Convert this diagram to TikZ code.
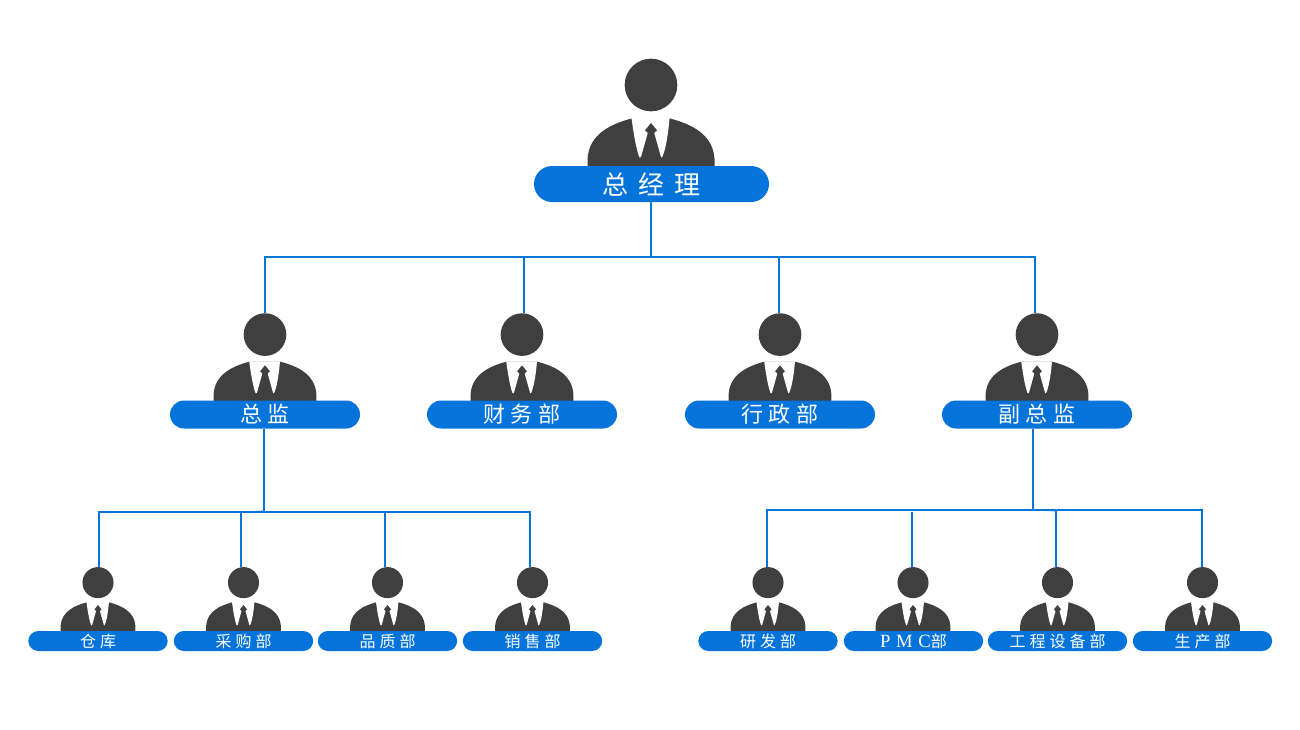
\documentclass[tikz,border=0pt]{standalone}
\usepackage{fontspec}
\usetikzlibrary{shapes.misc}
\setmainfont{Liberation Serif}
\newfontfamily\cjkA[LetterSpace=38]{Noto Sans CJK SC}
\newfontfamily\cjkB[LetterSpace=27]{Noto Sans CJK SC}
\newfontfamily\cjkC[LetterSpace=25]{Noto Sans CJK SC}
\newfontfamily\latC[LetterSpace=30]{Liberation Serif}
\definecolor{barblue}{HTML}{0474DB}
\definecolor{linkblue}{HTML}{0875D8}
\definecolor{suit}{HTML}{3F3F3F}
\tikzset{
  link/.style={draw=linkblue,line width=1.5pt},
  wedge/.style={draw=linkblue,line width=0.6pt},
  headnode/.style={circle,fill=suit,inner sep=0pt},
  barbase/.style={rounded rectangle,fill=barblue,draw=none,inner sep=0pt,text=white,align=center},
  barA/.style={barbase,minimum width=176.25pt,minimum height=27pt,font=\fontsize{19.5}{20}\cjkA},
  barB/.style={barbase,minimum width=142.5pt,minimum height=21pt,font=\fontsize{16.5}{18}\cjkB},
  barC/.style={barbase,minimum width=104.5pt,minimum height=15pt,font=\fontsize{12}{13}\cjkC},
}
\newcommand{\person}[4]{%
  \begin{scope}[shift={(#2,#3)},scale=#4]
    \fill[suit] (-63.5,0) -- (-63.5,-8) .. controls (-62,-33) and (-40,-43) .. (-19.5,-48.5)
      -- (19,-48.5) .. controls (40,-43) and (62,-33) .. (63.5,-8) -- (63.5,0) -- cycle;
    \fill[white] (-19.5,-49) .. controls (-17,-30) and (-14,-15) .. (-11.5,-9.5) -- (-10,-10) -- (-3,-35)
      -- (3,-35) -- (10,-10) -- (11,-9.5) .. controls (14,-15) and (17,-30) .. (18.5,-49) -- cycle;
    \fill[suit] (0,-44) -- (-6,-36.7) -- (0,-31) -- (6,-36.7) -- cycle;
    \node[headnode,minimum size=#4*39.5pt] (#1) at (0,-82) {};
  \end{scope}}
\begin{document}
\begin{tikzpicture}[x=0.75pt,y=-0.75pt]
\useasboundingbox (0,0) rectangle (1300,729);
% people
\person{hT}{651}{167}{1}
\person{h1}{265}{401}{0.81}
\person{h2}{522}{401}{0.81}
\person{h3}{780}{401}{0.81}
\person{h4}{1037}{401}{0.81}
\person{a1}{98}{631}{0.59}
\person{a2}{243.5}{631}{0.59}
\person{a3}{387.5}{631}{0.59}
\person{a4}{532.5}{631}{0.59}
\person{b1}{768}{631}{0.59}
\person{b2}{913}{631}{0.59}
\person{b3}{1057.5}{631}{0.59}
\person{b4}{1202.5}{631}{0.59}
% bars
\node[barA] (bT) at (651.5,184) {总经理};
\node[barB] (b1T) at (265,414.5) {总监};
\node[barB] (b2T) at (522,414.5) {财务部};
\node[barB] (b3T) at (780,414.5) {行政部};
\node[barB] (b4T) at (1037,414.5) {副总监};
\node[barC] (c1) at (98,641) {仓库};
\node[barC] (c2) at (243.5,641) {采购部};
\node[barC] (c3) at (387.5,641) {品质部};
\node[barC] (c4) at (532.5,641) {销售部};
\node[barC] (d1) at (768,641) {研发部};
\node[barC] (d2) at (913.5,641) {{\fontsize{14}{14}\latC PMC}部};
\node[barC] (d3) at (1057.5,641) {工程设备部};
\node[barC] (d4) at (1202.5,641) {生产部};
% junctions
\coordinate (jT) at (651,257);
\coordinate (t1) at (265,257);
\coordinate (t2) at (524,257);
\coordinate (t3) at (779,257);
\coordinate (t4) at (1035,257);
\coordinate (jL) at (264,511);
\coordinate (l1) at (99,512);
\coordinate (l2) at (241,512);
\coordinate (l3) at (385,512);
\coordinate (l4) at (530,512);
\coordinate (jR) at (1033,510);
\coordinate (r1) at (767,510);
\coordinate (r2) at (912,512);
\coordinate (r3) at (1056,511);
\coordinate (r4) at (1202,510);
% connectors
\draw[link] (bT.south -| jT) -- (jT);
\draw[link] (t1 |- h1.north) -- (t1) -- (t4) -- (t4 |- h4.north);
\draw[link] (t2) -- (t2 |- h2.north);
\draw[link] (t3) -- (t3 |- h3.north);
\draw[link] (b1T.south -| jL) -- (jL);
\draw[link] (l1 |- a1.north) -- (l1) -- (l4) -- (l4 |- a4.north);
\draw[link] (l2) -- (l2 |- a2.north);
\draw[link] (l3) -- (l3 |- a3.north);
\draw[wedge] (l2) -- (jL);
\draw[link] (b4T.south -| jR) -- (jR);
\draw[link] (r1 |- b1.north) -- (r1) -- (r4) -- (r4 |- b4.north);
\draw[link] (r2) -- (r2 |- b2.north);
\draw[link] (r3) -- (r3 |- b3.north);
\draw[wedge] (jR) -- (r3);
\end{tikzpicture}
\end{document}
